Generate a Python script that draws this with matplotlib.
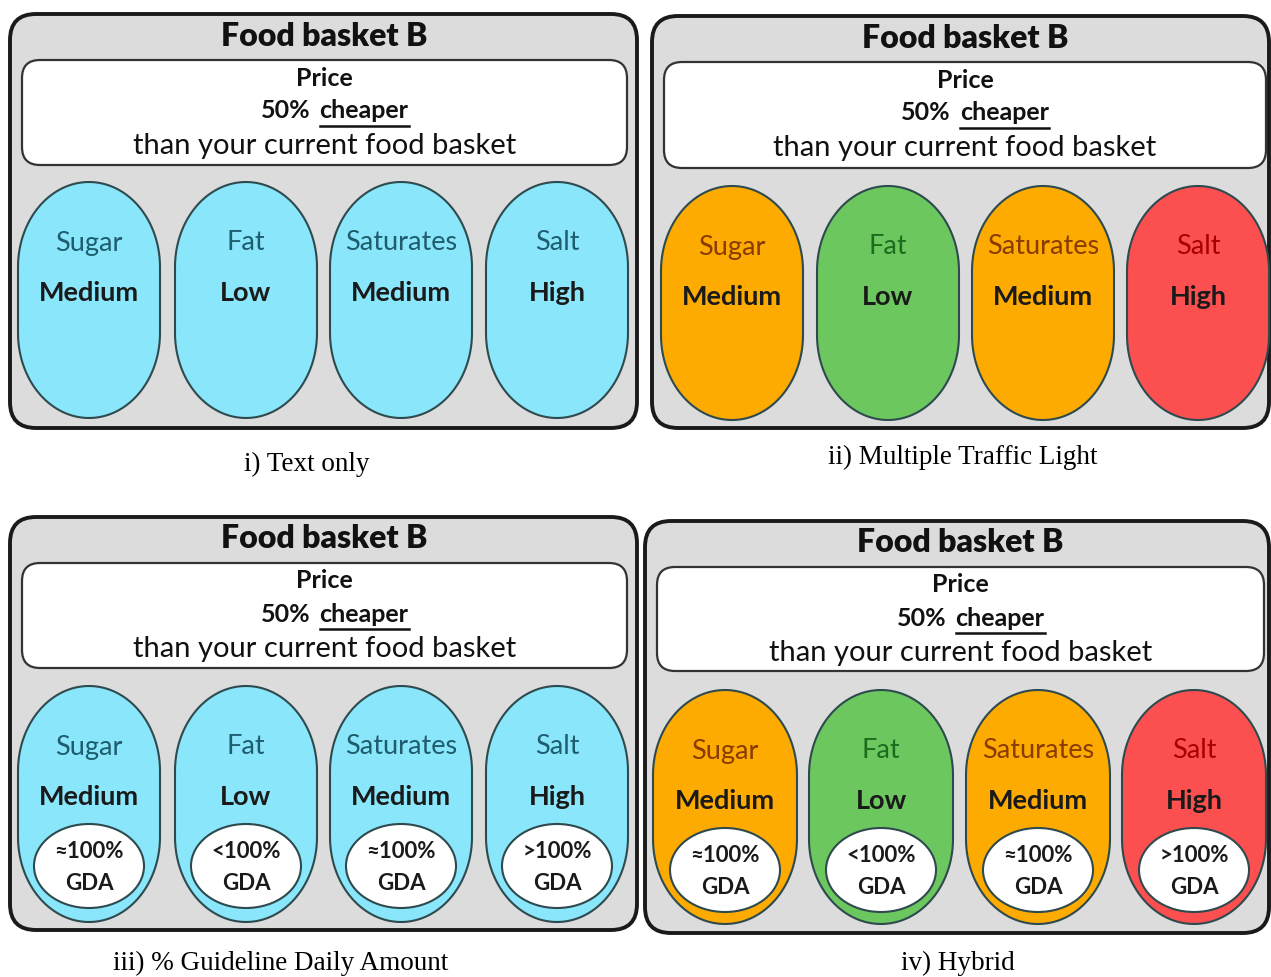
import matplotlib.pyplot as plt
import numpy as np
from matplotlib.patches import FancyBboxPatch, Polygon, Ellipse

# label content
nutrients = ["Sugar", "Fat", "Saturates", "Salt"]
levels = ["Medium", "Low", "Medium", "High"]
gda_text = ["\u2248100%", "<100%", "\u2248100%", ">100%"]
captions = ["i) Text only", "ii) Multiple Traffic Light",
            "iii) % Guideline Daily Amount", "iv) Hybrid"]
title = "Food basket B"
price_lines = ["Price", "50%", "cheaper", "than your current food basket"]

# level -> colours (fill, label colour)
level_fill = {"Low": "#6cc85e", "Medium": "#fdab00", "High": "#fc5050"}
level_lab = {"Low": "#1d6b1d", "Medium": "#8a3c00", "High": "#a80000"}
cyan_fill = "#8ae6fa"
cyan_lab = "#1e5d6e"

# panel layout in pixels: outer box, price box, oval x-centres, oval top/bottom
panels = [
    dict(box=(10, 14, 637, 428), pbox=(22, 60, 627, 165), cx=[89, 246, 401, 557],
         ow=142, oy=(182, 418), colored=False, gda=False, cap=(307, 464)),
    dict(box=(652, 16, 1269, 428), pbox=(664, 62, 1266, 168), cx=[732, 888, 1043, 1198],
         ow=142, oy=(186, 420), colored=True, gda=False, cap=(963, 457)),
    dict(box=(10, 517, 637, 930), pbox=(22, 563, 627, 668), cx=[89, 246, 401, 557],
         ow=142, oy=(686, 922), colored=False, gda=True, cap=(281, 963)),
    dict(box=(645, 521, 1269, 933), pbox=(657, 567, 1264, 671), cx=[725, 881, 1038, 1194],
         ow=144, oy=(690, 924), colored=True, gda=True, cap=(958, 963)),
]

SANS = ["Lato", "DejaVu Sans"]
SERIF = ["Liberation Serif", "DejaVu Serif"]

fig = plt.figure(figsize=(12.71, 9.77), dpi=100)
ax = fig.add_axes([0, 0, 1, 1])
ax.set_xlim(0, 1271)
ax.set_ylim(977, 0)
ax.axis("off")
renderer = fig.canvas.get_renderer()


def stadium(cx, y0, y1, w, cap_h, **kw):
    a = w / 2
    t = np.linspace(0, np.pi, 60)
    top = np.column_stack([cx + a * np.cos(t), y0 + cap_h - cap_h * np.sin(t)])
    bot = np.column_stack([cx - a * np.cos(t), y1 - cap_h + cap_h * np.sin(t)])
    return Polygon(np.vstack([top, bot]), closed=True, **kw)


for i, p in enumerate(panels):
    x0, y0, x1, y1 = p["box"]
    ax.add_patch(FancyBboxPatch((x0, y0), x1 - x0, y1 - y0,
                                boxstyle="round,pad=0,rounding_size=26",
                                fc="#dcdcdc", ec="#1a1a1a", lw=2.8))
    px0, py0, px1, py1 = p["pbox"]
    pcx = (px0 + px1) / 2
    ax.text(pcx, y0 + 22, title, ha="center", va="center", fontsize=23,
            fontweight="heavy", family=SANS, color="#111111")
    ax.add_patch(FancyBboxPatch((px0, py0), px1 - px0, py1 - py0,
                                boxstyle="round,pad=0,rounding_size=18",
                                fc="white", ec="#333333", lw=1.6))
    ax.text(pcx, py0 + 18, price_lines[0], ha="center", va="center", fontsize=18,
            fontweight="bold", family=SANS, color="#111111")
    ax.text(pcx - 14, py0 + 51, price_lines[1], ha="right", va="center", fontsize=18,
            fontweight="bold", family=SANS, color="#111111")
    t = ax.text(pcx - 5, py0 + 51, price_lines[2], ha="left", va="center", fontsize=18,
                fontweight="bold", family=SANS, color="#111111")
    bb = t.get_window_extent(renderer).transformed(ax.transData.inverted())
    ax.plot([bb.x0, bb.x1], [py0 + 66, py0 + 66], color="#111111", lw=1.8)
    ax.text(pcx, py0 + 86, price_lines[3], ha="center", va="center", fontsize=21,
            family=SANS, color="#111111")

    oy0, oy1 = p["oy"]
    for cx, nut, lev, g in zip(p["cx"], nutrients, levels, gda_text):
        fc = level_fill[lev] if p["colored"] else cyan_fill
        lc = level_lab[lev] if p["colored"] else cyan_lab
        ax.add_patch(stadium(cx, oy0, oy1, p["ow"], 85, fc=fc, ec="#2e4a4e", lw=1.5))
        ax.text(cx, oy0 + 61, nut, ha="center", va="center", fontsize=19.5,
                family=SANS, color=lc)
        ax.text(cx, oy0 + 111, lev, ha="center", va="center", fontsize=19.5,
                fontweight="bold", family=SANS, color="#1a1a1a")
        if p["gda"]:
            ey = oy0 + 180
            ax.add_patch(Ellipse((cx, ey), 110, 84, fc="white", ec="#2e4a4e", lw=1.5))
            ax.text(cx, ey - 15, g, ha="center", va="center", fontsize=16,
                    fontweight="bold", family=SANS, color="#1a1a1a")
            ax.text(cx, ey + 17, "GDA", ha="center", va="center", fontsize=16,
                    fontweight="bold", family=SANS, color="#1a1a1a")

    ax.text(p["cap"][0], p["cap"][1], captions[i], ha="center",
            va="center", fontsize=19.5, family=SERIF, color="black")

fig.savefig("out.png", dpi=100)
